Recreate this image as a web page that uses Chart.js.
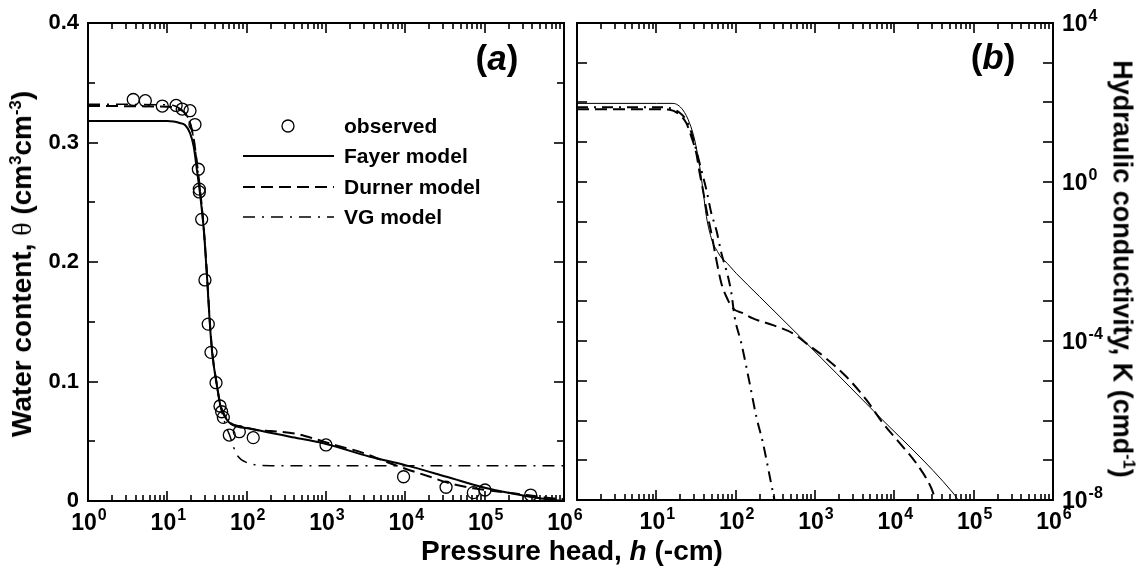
<!DOCTYPE html>
<html><head><meta charset="utf-8">
<script src="https://cdn.jsdelivr.net/npm/chart.js@4.4.0/dist/chart.umd.min.js"></script>
<style>
html,body{margin:0;padding:0;background:#fff;}
#wrap{position:relative;width:1143px;height:570px;overflow:hidden;font-family:"Liberation Sans",Arial,sans-serif;font-weight:bold;color:#000;}
canvas{position:absolute;top:0;}
#cA{left:0;} #cB{left:571px;}
.t{position:absolute;white-space:nowrap;transform:translate(-50%,-50%);line-height:1;}
sup{font-size:0.6em;vertical-align:0.6em;line-height:0;}
.sym{font-family:"Liberation Serif","DejaVu Serif",serif;font-weight:normal;}
</style></head><body>
<div id="wrap">
<canvas id="cA" width="600" height="570"></canvas>
<canvas id="cB" width="572" height="570"></canvas>
<div class="t" style="left:572px;top:551px;font-size:28px;">Pressure head, <i>h</i> (-cm)</div>
<div class="t" style="left:22px;top:264px;font-size:28px;transform:translate(-50%,-50%) rotate(-90deg);">Water content, <span class="sym">θ</span> (cm<sup>3</sup>cm<sup>-3</sup>)</div>
<div class="t" style="left:1122px;top:269px;font-size:27px;transform:translate(-50%,-50%) rotate(90deg);">Hydraulic conductivity, K (cmd<sup>-1</sup>)</div>
<div class="t" style="left:497px;top:57px;font-size:35px;">(<i>a</i>)</div>
<div class="t" style="left:993px;top:56px;font-size:35px;">(<i>b</i>)</div>
</div>
<script>
// ---------- data: panel (a) water retention ----------
const hObs = [3.72, 5.28, 8.64, 12.9, 15.4, 19.3, 22.3, 24.6, 25.3, 25.3, 27.1, 29.8, 32.8, 35.5, 41.1, 46.1, 48.4, 50.8, 60.4, 80.8, 121, 1000, 9500, 32600, 72000, 101000, 380000];
const thetaObs = [0.336, 0.335, 0.3305, 0.331, 0.328, 0.3266, 0.315, 0.2776, 0.261, 0.2586, 0.2357, 0.185, 0.148, 0.1244, 0.099, 0.0795, 0.0747, 0.070, 0.0552, 0.058, 0.053, 0.0469, 0.0203, 0.0115, 0.007, 0.0092, 0.005];

const hFayerA = [1, 10, 12, 14, 16.7, 19.4, 21.5, 23.6, 26.1, 28.8, 31.8, 34.1, 36.8, 41.7, 46.9, 54.6, 63.2, 80, 102, 352, 925, 3590, 10000, 33100, 107000, 372000, 741000, 1000000];
const thetaFayer = [0.318, 0.318, 0.3175, 0.3165, 0.3146, 0.3077, 0.2965, 0.277, 0.2546, 0.2268, 0.185, 0.1515, 0.1236, 0.0985, 0.079, 0.0692, 0.0644, 0.0620, 0.0608, 0.0538, 0.0483, 0.0371, 0.030, 0.0203, 0.0106, 0.0036, 0.0008, 0.0];

const hDurnerA = [1, 10, 12, 14, 16.7, 19.4, 21.5, 23.6, 26.1, 28.8, 31.8, 34.1, 36.8, 41.7, 46.9, 54.6, 63.2, 80, 102, 134, 200, 400, 760, 1070, 1350, 2630, 6170, 10000, 20000, 36300, 72000, 155000, 340000, 740000, 1000000];
const thetaDurner = [0.3305, 0.330, 0.3295, 0.328, 0.3245, 0.316, 0.303, 0.283, 0.258, 0.228, 0.187, 0.153, 0.125, 0.099, 0.080, 0.070, 0.065, 0.0625, 0.0612, 0.0595, 0.0585, 0.0565, 0.0515, 0.0485, 0.0465, 0.0413, 0.032, 0.027, 0.0205, 0.0148, 0.0106, 0.0078, 0.005, 0.0022, 0.0015];

const hVGA = [1, 10, 12, 14, 16.7, 19.4, 21.5, 23.6, 26.1, 28.8, 31.8, 34.1, 36.8, 41.7, 46.9, 54.6, 62, 68, 78.5, 95, 134, 200, 1000000];
const thetaVG = [0.332, 0.3315, 0.331, 0.329, 0.3245, 0.316, 0.303, 0.283, 0.258, 0.228, 0.187, 0.153, 0.125, 0.099, 0.079, 0.063, 0.0538, 0.0454, 0.037, 0.0329, 0.0301, 0.0296, 0.0296];

// ---------- data: panel (b) hydraulic conductivity ----------
const hFayerB = [1, 10, 16.2, 21.6, 26.3, 30.4, 35.2, 38.7, 42.8, 50.1, 60.3, 67.6, 72.4, 102, 201, 643, 5380, 55000, 61700, 66000];
const KFayer = [95, 95, 95, 65, 30, 11.5, 2.45, 0.63, 0.135, 0.035, 0.0166, 0.0117, 0.0105, 5.0e-3, 1.3e-3, 1.3e-4, 1.8e-6, 1.5e-8, 1.1e-8, 9.5e-9];

const hDurnerB = [1, 10, 14.7, 19.7, 23.9, 27.6, 31.9, 35.2, 38.7, 42.8, 49.4, 57.1, 66.1, 80.0, 92.5, 123.6, 165, 295, 528, 778, 1393, 2489, 4446, 7211, 11700, 19010, 29380, 33100];
const KDurner = [67.6, 67.6, 66, 49, 30.2, 13.8, 5.25, 1.66, 0.63, 0.2, 0.0513, 0.011, 2.8e-3, 1.07e-3, 6.6e-4, 5.0e-4, 3.7e-4, 2.5e-4, 1.55e-4, 8.7e-5, 3.6e-5, 1.26e-5, 3.3e-6, 8.5e-7, 2.7e-7, 8.3e-8, 1.95e-8, 1.0e-8];

const hVGB = [1, 10, 14.7, 19.7, 23.9, 27.6, 31.9, 36.9, 42.8, 49.4, 57.1, 66.1, 80, 88.3, 97.1, 118, 150, 182, 221, 269, 296, 309];
const KVG = [75.9, 75.9, 72.4, 55, 35.5, 17.8, 6.3, 2.0, 0.63, 0.162, 0.0617, 0.0162, 4.2e-3, 1.6e-3, 4.0e-4, 8.7e-5, 8.7e-6, 1.26e-6, 2.7e-7, 3.9e-8, 1.5e-8, 1.0e-8];

// ---------- ticks ----------
const xDecades = [1, 10, 100, 1000, 10000, 100000, 1000000];
const xLabelsA = [1, 10, 100, 1000, 10000, 100000, 1000000];
const xLabelsB = [10, 100, 1000, 10000, 100000, 1000000];
const logMultipliers = [2, 3, 4, 5, 6, 7, 8, 9];
const thetaTicks = [0, 0.1, 0.2, 0.3, 0.4];
const thetaMinorTicks = [0.05, 0.15, 0.25, 0.35];
const kLabelTicks = [1e4, 1, 1e-4, 1e-8];
const kDecadeTicks = [1e4, 1e3, 1e2, 1e1, 1, 1e-1, 1e-2, 1e-3, 1e-4, 1e-5, 1e-6, 1e-7, 1e-8];
const legendLabels = ['observed', 'Fayer model', 'Durner model', 'VG model'];

// ---------- helpers ----------
const FONT = '"Liberation Sans", Arial, sans-serif';
const BASE_FONT = 'bold 23px ' + FONT;
const EXP_FONT = 'bold 16px ' + FONT;
const exponentOf = v => String(Math.round(Math.log10(v)));
const pts = (xs, ys) => xs.map((x, i) => ({x: x, y: ys[i]}));

// draws "10" with a raised exponent
function drawPow(ctx, v, x, baseline, align) {
  const e = exponentOf(v);
  ctx.font = BASE_FONT;
  const w1 = ctx.measureText('10').width;
  ctx.font = EXP_FONT;
  const w2 = ctx.measureText(e).width;
  const total = w1 + 1 + w2;
  const x0 = align === 'center' ? x - total / 2 : x;
  ctx.textAlign = 'left';
  ctx.textBaseline = 'alphabetic';
  ctx.font = BASE_FONT;
  ctx.fillText('10', x0, baseline);
  ctx.font = EXP_FONT;
  ctx.fillText(e, x0 + w1 + 1, baseline - 10);
}

const framePlugin = {
  id: 'frame',
  afterDatasetsDraw(chart, args, o) {
    const ctx = chart.ctx, a = chart.chartArea;
    const xs = chart.scales.x, ys = chart.scales.y;
    ctx.save();
    ctx.strokeStyle = '#000';
    ctx.lineWidth = 1.6;
    const seg = (x1, y1, x2, y2) => { ctx.beginPath(); ctx.moveTo(x1, y1); ctx.lineTo(x2, y2); ctx.stroke(); };
    const vt = (v, len) => { const p = Math.round(xs.getPixelForValue(v)); seg(p, a.bottom, p, a.bottom - len); seg(p, a.top, p, a.top + len); };
    const ht = (v, len) => { const p = Math.round(ys.getPixelForValue(v)); seg(a.left, p, a.left + len, p); seg(a.right, p, a.right - len, p); };
    xDecades.forEach(v => vt(v, 10));
    xDecades.slice(0, -1).forEach(d => logMultipliers.forEach(m => vt(d * m, 6)));
    o.yMajor.forEach(v => ht(v, 10));
    o.yMinor.forEach(v => ht(v, o.minorLen));
    ctx.lineWidth = 2;
    ctx.strokeRect(a.left, a.top, a.right - a.left, a.bottom - a.top);
    // power-of-ten tick labels, placed with the library's scales
    ctx.fillStyle = '#000';
    o.xLabels.forEach(v => drawPow(ctx, v, xs.getPixelForValue(v) + 1, a.bottom + 29, 'center'));
    if (o.yPowLabels) o.yPowLabels.forEach(v => drawPow(ctx, v, a.right + 9, ys.getPixelForValue(v) + 8, 'left'));
    ctx.restore();
  }
};

const legendPlugin = {
  id: 'legendA',
  afterDraw(chart) {
    const ctx = chart.ctx, ds = chart.data.datasets;
    const rowsY = [126, 156, 187, 217], x0 = 243, x1 = 334, tx = 344;
    ctx.save();
    ctx.font = 'bold 21px ' + FONT;
    ctx.textBaseline = 'middle';
    ctx.fillStyle = '#000';
    ds.forEach((d, i) => {
      const y = rowsY[i];
      ctx.strokeStyle = '#000';
      if (i === 0) {
        ctx.setLineDash([]);
        ctx.lineWidth = d.pointBorderWidth;
        ctx.beginPath(); ctx.arc(288, y, d.pointRadius, 0, Math.PI * 2); ctx.stroke();
      } else {
        ctx.lineWidth = d.borderWidth;
        ctx.setLineDash(d.borderDash || []);
        ctx.beginPath(); ctx.moveTo(x0, y); ctx.lineTo(x1, y); ctx.stroke();
      }
      ctx.setLineDash([]);
      ctx.fillText(legendLabels[i], tx, y + 1);
    });
    ctx.restore();
  }
};

const xScale = (labels, height) => ({
  type: 'logarithmic', position: 'bottom', min: 1, max: 1e6,
  grid: {display: false, drawTicks: false}, border: {display: false},
  afterBuildTicks: s => { s.ticks = labels.map(v => ({value: v})); },
  ticks: {display: false},
  afterFit: s => { s.height = height; s.paddingLeft = 0; s.paddingRight = 0; }
});

const lineDs = (label, xs, ys, width, dash) => ({
  label: label, data: pts(xs, ys), showLine: true, borderColor: '#000', backgroundColor: '#000',
  borderWidth: width, borderDash: dash, pointRadius: 0, fill: false, cubicInterpolationMode: 'monotone'
});

const common = {
  responsive: false, animation: false, events: [],
  plugins: {legend: {display: false}, tooltip: {enabled: false}}
};

new Chart(document.getElementById('cA'), {
  type: 'scatter',
  data: {datasets: [
    {label: 'observed', data: pts(hObs, thetaObs), pointStyle: 'circle', pointRadius: 6, pointBorderWidth: 1.3, borderColor: '#000', backgroundColor: 'rgba(0,0,0,0)', showLine: false},
    lineDs('Fayer model', hFayerA, thetaFayer, 2, []),
    lineDs('Durner model', hDurnerA, thetaDurner, 2, [12, 6]),
    lineDs('VG model', hVGA, thetaVG, 1.5, [12, 7, 2, 7])
  ]},
  options: Object.assign({}, common, {
    layout: {padding: {top: 23, right: 36, left: 0, bottom: 0}},
    scales: {
      x: xScale(xLabelsA, 69),
      y: {
        type: 'linear', min: 0, max: 0.4,
        grid: {display: false, drawTicks: false}, border: {display: false},
        afterBuildTicks: s => { s.ticks = thetaTicks.map(v => ({value: v})); },
        ticks: {callback: v => (v === 0 ? '0' : v.toFixed(1)), font: {family: FONT, weight: 'bold', size: 22}, color: '#000', padding: 9},
        afterFit: s => { s.width = 88; s.paddingTop = 0; s.paddingBottom = 0; }
      }
    },
    plugins: Object.assign({}, common.plugins, {frame: {yMajor: thetaTicks, yMinor: thetaMinorTicks, minorLen: 7, xLabels: xLabelsA}})
  }),
  plugins: [framePlugin, legendPlugin]
});

new Chart(document.getElementById('cB'), {
  type: 'scatter',
  data: {datasets: [
    lineDs('Fayer model', hFayerB, KFayer, 1, []),
    lineDs('Durner model', hDurnerB, KDurner, 2, [12, 6]),
    lineDs('VG model', hVGB, KVG, 2, [11, 6, 2, 6])
  ]},
  options: Object.assign({}, common, {
    layout: {padding: {top: 23, right: 0, left: 6, bottom: 0}},
    scales: {
      x: xScale(xLabelsB, 70),
      y: {
        type: 'logarithmic', position: 'right', min: 1e-8, max: 1e4,
        grid: {display: false, drawTicks: false}, border: {display: false},
        afterBuildTicks: s => { s.ticks = kLabelTicks.map(v => ({value: v})); },
        ticks: {display: false},
        afterFit: s => { s.width = 90; s.paddingTop = 0; s.paddingBottom = 0; }
      }
    },
    plugins: Object.assign({}, common.plugins, {frame: {yMajor: kDecadeTicks, yMinor: [], minorLen: 10, xLabels: xLabelsB, yPowLabels: kLabelTicks}})
  }),
  plugins: [framePlugin]
});
</script>
</body></html>
